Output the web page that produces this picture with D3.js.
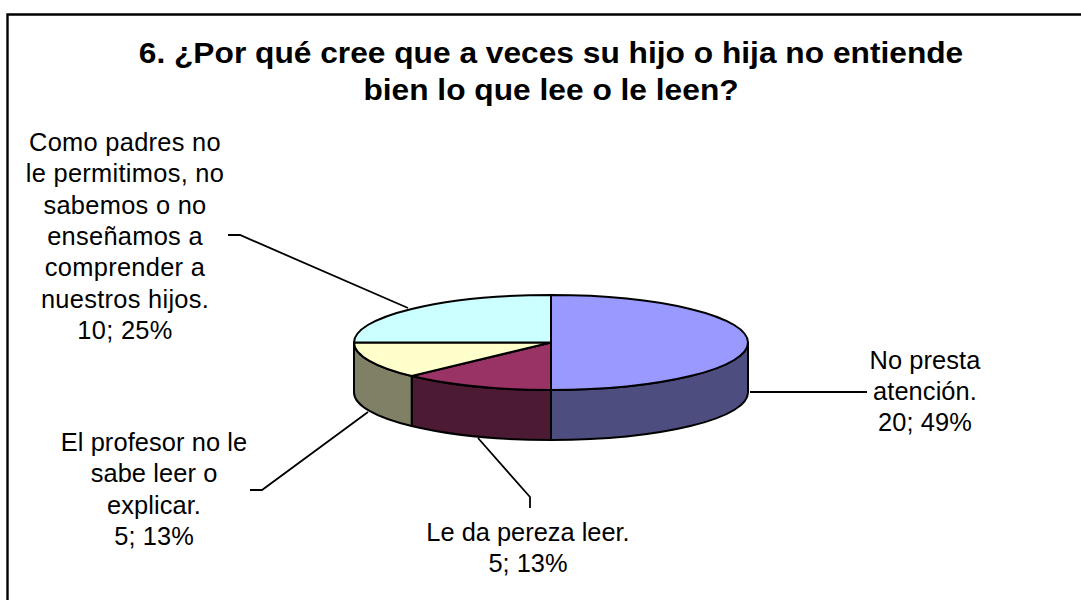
<!DOCTYPE html>
<html><head><meta charset="utf-8">
<script src="https://d3js.org/d3.v7.min.js"></script>
<style>html,body{margin:0;padding:0;background:#fff}svg{display:block}text{font-family:"Liberation Sans",Arial,sans-serif;fill:#000}</style>
</head><body><div id="c"></div>
<script>
const categories = ["No presta atención.","Le da pereza leer.","El profesor no le sabe leer o explicar.","Como padres no le permitimos, no sabemos o no enseñamos a comprender a nuestros hijos."];
const values = [20,5,5,10];
const percents = [49,13,13,25];
const topColors = ["#9999FF","#993366","#FFFFCC","#CCFFFF"];
const sideColors = ["#4D4D80","#4D1A33","#808066","#668080"];
const titleLines = ["6. ¿Por qué cree que a veces su hijo o hija no entiende","bien lo que lee o le leen?"];
const labelLines = [
  ["No presta","atención.","20; 49%"],
  ["Le da pereza leer.","5; 13%"],
  ["El profesor no le","sabe leer o","explicar.","5; 13%"],
  ["Como padres no","le permitimos, no","sabemos o no","enseñamos a","comprender a","nuestros hijos.","10; 25%"]
];
const labelAnchors = [[925,369,31,0.1],[528,541,31,0],[154,451,31.3,0.1],[125,151,31.3,0.3]];
const leaders = [
  [[750,392],[867,392]],
  [[478,438],[530,497],[530,508]],
  [[368,412],[262,490],[250,490]],
  [[408,308],[240,235],[228,235]]
];

const W=1081,H=600;
const svg=d3.select("#c").append("svg").attr("width",W).attr("height",H);
svg.append("path").attr("d",d3.line()([[7.5,600],[7.5,14.5],[1081,14.5]]))
  .attr("fill","none").attr("stroke","#000").attr("stroke-width",2.4);

const t=svg.append("g").attr("font-size",30).attr("font-weight","bold").attr("text-anchor","middle")
  .attr("transform","translate(551,0) scale(1.057,1)");
titleLines.forEach((s,i)=>t.append("text").attr("x",0).attr("y",63.5+i*36.5).text(s));

const sx=d3.scaleLinear().domain([-1,1]).range([354,748]);
const sy=d3.scaleLinear().domain([-1,1]).range([295,390]);
const depth=50;
const px=a=>sx(Math.sin(a)), py=a=>sy(-Math.cos(a));
const rx=(sx(1)-sx(-1))/2, ry=(sy(1)-sy(-1))/2;
const arcs=d3.pie().sort(null)(values);
const fmt=v=>v.toFixed(2);

const g=svg.append("g").attr("stroke","#000").attr("stroke-width",2).attr("stroke-linejoin","round");
arcs.forEach((d,i)=>{
  const a0=Math.max(d.startAngle,Math.PI/2), a1=Math.min(d.endAngle,Math.PI*1.5);
  if(a1<=a0) return;
  g.append("path").attr("fill",sideColors[i]).attr("d",
    `M${fmt(px(a0))},${fmt(py(a0))}A${rx},${ry} 0 0 1 ${fmt(px(a1))},${fmt(py(a1))}`+
    `L${fmt(px(a1))},${fmt(py(a1)+depth)}A${rx},${ry} 0 0 0 ${fmt(px(a0))},${fmt(py(a0)+depth)}Z`);
});
arcs.forEach((d,i)=>{
  const large=(d.endAngle-d.startAngle)>Math.PI?1:0;
  g.append("path").attr("fill",topColors[i]).attr("d",
    `M${sx(0)},${sy(0)}L${fmt(px(d.startAngle))},${fmt(py(d.startAngle))}`+
    `A${rx},${ry} 0 ${large} 1 ${fmt(px(d.endAngle))},${fmt(py(d.endAngle))}Z`);
});
const line=d3.line();
leaders.forEach(p=>svg.append("path").attr("d",line(p)).attr("fill","none").attr("stroke","#000").attr("stroke-width",1.8));
const lab=svg.append("g").attr("font-size",25.4).attr("text-anchor","middle");
labelLines.forEach((ls,i)=>{
  const [x,y0,lh,sp]=labelAnchors[i];
  ls.forEach((s,j)=>lab.append("text").attr("x",x).attr("y",y0+j*lh).attr("letter-spacing",sp).text(s));
});
</script></body></html>
